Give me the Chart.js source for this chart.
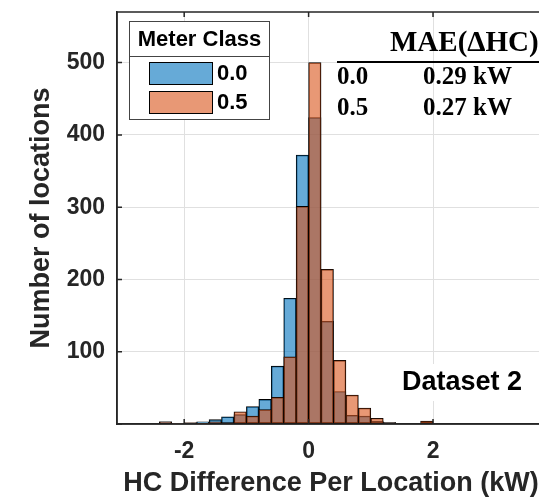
<!DOCTYPE html>
<html><head><meta charset="utf-8">
<script src="https://cdn.jsdelivr.net/npm/chart.js@4.4.1/dist/chart.umd.min.js"></script>
<style>
html,body{margin:0;padding:0;background:#fff;overflow:hidden;width:539px;height:501px}
#wrap{width:560px;height:501px}
</style></head>
<body><div id="wrap"><canvas id="c" width="560" height="501"></canvas></div>
<script>
// ---- data ----
const binCenters = [-2.7,-2.5,-2.3,-2.1,-1.9,-1.7,-1.5,-1.3,-1.1,-0.9,-0.7,-0.5,-0.3,-0.1,0.1,0.3,0.5,0.7,0.9,1.1,1.3,1.5,1.7,1.9,2.1,2.3,2.5];
const meter00 = [0,0,3,1,1,3,6,10,13,24,34,80,174,372,424,142,45,12,11,4,2,0,0,0,0,0,0];
const meter05 = [0,0,3,1,2,1,3,2,17,11,20,37,93,301,500,214,88,40,22,8,2,0,0,4,0,0,0];
const seriesLabels = ['0.0', '0.5'];
const maeValues = ['0.29 kW', '0.27 kW'];
const xTicks = [-2, 0, 2];
const yTicks = [0, 100, 200, 300, 400, 500];
const legendTitle = 'Meter Class';
const maeTitle = 'MAE(\u0394HC)';
const datasetTag = 'Dataset 2';
const xTitle = 'HC Difference Per Location (kW)';
const yTitle = 'Number of locations';

// ---- styles ----
const BLUE = 'rgba(0,114,189,0.6)';
const ORANGE = 'rgba(217,83,25,0.6)';
const AX = '#262626';
const GRID = '#e0e0e0';
const SANS = '"Liberation Sans", Arial, sans-serif';
const SERIF = '"Liberation Serif", "Times New Roman", serif';

const toXY = arr => binCenters.map((x, i) => ({ x: x, y: arr[i] }));

const overlay = {
  id: 'overlay',
  afterDatasetsDraw(chart) {
    const { ctx, chartArea: a, scales: { x, y } } = chart;
    ctx.save();
    ctx.strokeStyle = AX; ctx.lineWidth = 1.5;
    ctx.beginPath();
    ctx.moveTo(a.left, a.top); ctx.lineTo(a.right, a.top);
    ctx.moveTo(a.left, a.top); ctx.lineTo(a.left, a.bottom);
    ctx.moveTo(a.left, a.bottom); ctx.lineTo(a.right, a.bottom);
    ctx.stroke();
    ctx.beginPath();
    yTicks.forEach(v => { const py = y.getPixelForValue(v); ctx.moveTo(a.left, py); ctx.lineTo(a.left + 5, py); });
    xTicks.forEach(v => {
      const px = x.getPixelForValue(v);
      ctx.moveTo(px, a.top); ctx.lineTo(px, a.top + 5);
      ctx.moveTo(px, a.bottom); ctx.lineTo(px, a.bottom - 5);
    });
    ctx.stroke();

    // Dataset tag with white background
    ctx.font = 'bold 27px ' + SANS;
    ctx.textBaseline = 'middle'; ctx.textAlign = 'left';
    const tw = ctx.measureText(datasetTag).width;
    ctx.fillStyle = '#fff';
    ctx.fillRect(398, 364, tw + 8, 37);
    ctx.fillStyle = '#000';
    ctx.fillText(datasetTag, 402, 383);

    // legend box
    const ds = chart.data.datasets;
    ctx.fillStyle = '#fff';
    ctx.fillRect(129, 21, 140, 98);
    ctx.strokeStyle = '#444'; ctx.lineWidth = 1;
    ctx.strokeRect(129.5, 21.5, 140, 98);
    ctx.beginPath(); ctx.moveTo(129.5, 56.5); ctx.lineTo(269.5, 56.5); ctx.stroke();
    ctx.fillStyle = '#000';
    ctx.font = 'bold 22px ' + SANS;
    ctx.textAlign = 'center';
    ctx.fillText(legendTitle, 199.5, 40);
    ctx.textAlign = 'left';
    [0, 1].forEach(i => {
      const top = 62 + i * 29;
      ctx.fillStyle = '#fff'; ctx.fillRect(149, top, 63, 22);
      ctx.fillStyle = ds[i].backgroundColor; ctx.fillRect(149, top, 63, 22);
      ctx.strokeStyle = '#000'; ctx.lineWidth = 1;
      ctx.strokeRect(149.5, top + 0.5, 63, 22);
      ctx.fillStyle = '#000';
      ctx.font = 'bold 22px ' + SANS;
      ctx.fillText(seriesLabels[i], 217, top + 12);
    });

    // MAE table
    ctx.fillStyle = '#000';
    ctx.font = 'bold 29px ' + SERIF;
    ctx.textAlign = 'left';
    ctx.fillText(maeTitle, 390, 44);
    ctx.strokeStyle = '#000'; ctx.lineWidth = 2;
    ctx.beginPath(); ctx.moveTo(337, 62); ctx.lineTo(a.right, 62); ctx.stroke();
    ctx.font = 'bold 25px ' + SERIF;
    [0, 1].forEach(i => {
      const yy = 78 + i * 31;
      ctx.fillText(seriesLabels[i], 337, yy);
      ctx.fillText(maeValues[i], 423, yy);
    });
    ctx.restore();
  }
};

const noPad = s => { s.paddingTop = 0; s.paddingBottom = 0; s.paddingLeft = 0; s.paddingRight = 0; };

new Chart(document.getElementById('c'), {
  type: 'bar',
  data: {
    datasets: [
      { label: seriesLabels[0], data: toXY(meter00), backgroundColor: BLUE, borderColor: '#000', borderWidth: 0.8, borderSkipped: false, order: 1 },
      { label: seriesLabels[1], data: toXY(meter05), backgroundColor: ORANGE, borderColor: '#000', borderWidth: 0.8, borderSkipped: false, order: 0 }
    ]
  },
  options: {
    responsive: false,
    animation: false,
    devicePixelRatio: 1,
    layout: { padding: { left: 0, top: 12, right: 15, bottom: 0 } },
    datasets: { bar: { grouped: false, barPercentage: 1, categoryPercentage: 1 } },
    plugins: { legend: { display: false }, tooltip: { enabled: false } },
    scales: {
      x: {
        type: 'linear', min: -3.08, max: 3.8, offset: false,
        afterBuildTicks: s => { s.ticks = xTicks.map(v => ({ value: v })); },
        grid: { color: GRID, lineWidth: 1, drawTicks: false, offset: false },
        border: { color: AX, width: 1.5 },
        ticks: { font: { family: SANS, size: 23, weight: 'bold' }, color: AX, padding: 14, maxRotation: 0, autoSkip: false },
        title: { display: true, text: xTitle, color: AX, font: { family: SANS, size: 27, weight: 'bold', lineHeight: 1 }, padding: { top: 0, bottom: 3.5 } },
        afterFit: s => { s.height = 77; noPad(s); }
      },
      y: {
        min: 0, max: 570,
        afterBuildTicks: s => { s.ticks = yTicks.map(v => ({ value: v })); },
        grid: { color: GRID, lineWidth: 1, drawTicks: false },
        border: { color: AX, width: 1.5 },
        ticks: { font: { family: SANS, size: 23, weight: 'bold' }, color: AX, padding: 12, callback: v => v === 0 ? '' : String(v) },
        title: { display: true, text: yTitle, color: AX, font: { family: SANS, size: 27, weight: 'bold', lineHeight: 1 }, padding: { top: 28.5, bottom: 0 } },
        afterFit: s => { s.width = 117; noPad(s); }
      }
    }
  },
  plugins: [overlay]
});
</script>
</body></html>
